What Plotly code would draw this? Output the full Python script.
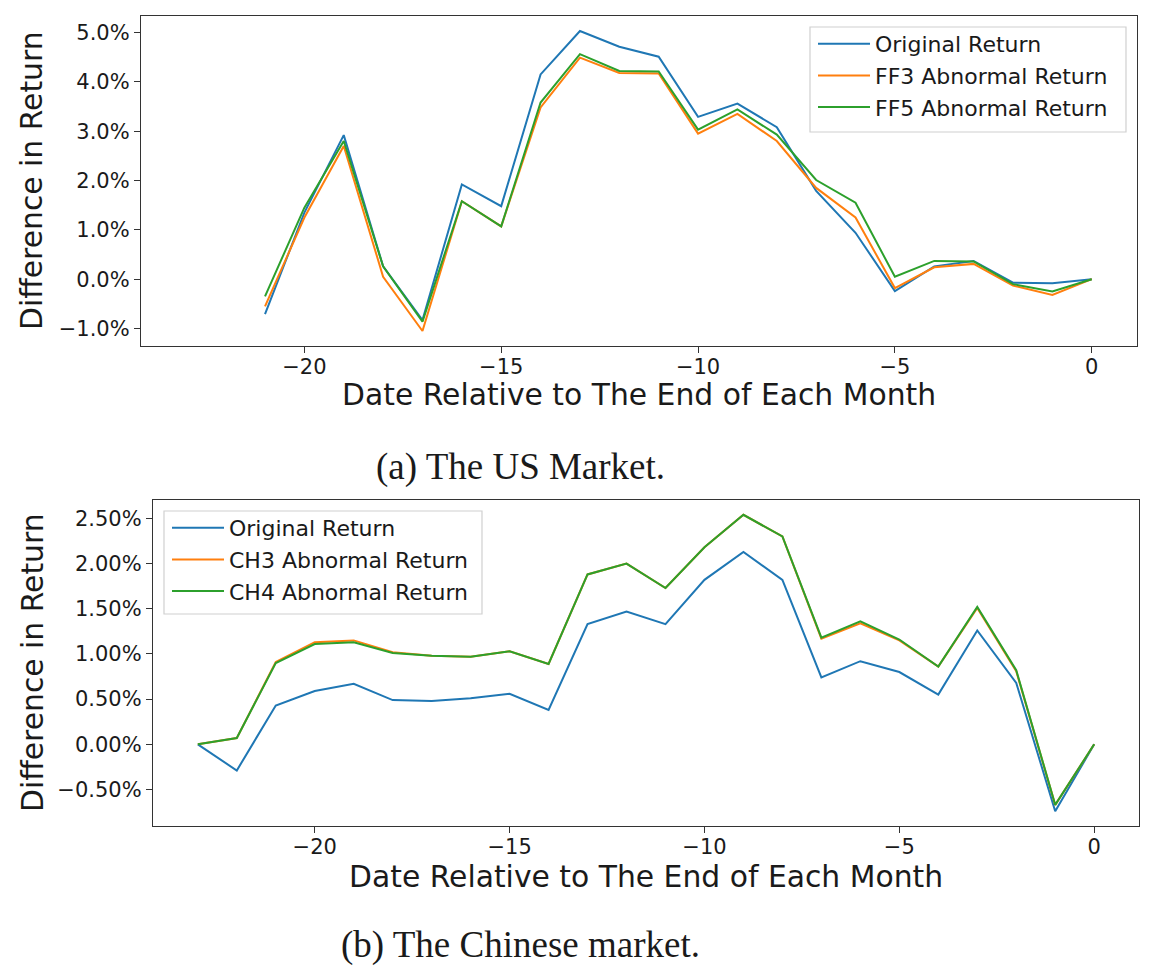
import plotly.graph_objects as go

# ---------------- data ----------------
us_days = list(range(-21, 1))
us_original = [-0.71, 1.35, 2.92, 0.26, -0.83, 1.92, 1.48, 4.15, 5.03, 4.71, 4.51,
               3.29, 3.56, 3.08, 1.79, 0.94, -0.24, 0.26, 0.37, -0.07, -0.08, 0.0]
us_ff3 = [-0.55, 1.25, 2.70, 0.05, -1.05, 1.58, 1.07, 3.48, 4.49, 4.18, 4.17,
          2.95, 3.35, 2.80, 1.85, 1.25, -0.18, 0.24, 0.31, -0.13, -0.32, 0.0]
us_ff5 = [-0.35, 1.45, 2.80, 0.26, -0.86, 1.58, 1.07, 3.58, 4.56, 4.22, 4.21,
          3.03, 3.44, 2.93, 2.01, 1.55, 0.05, 0.37, 0.36, -0.10, -0.25, 0.0]

cn_days = list(range(-23, 1))
cn_original = [0.0, -0.29, 0.43, 0.59, 0.67, 0.49, 0.48, 0.51, 0.56, 0.38, 1.33, 1.47,
               1.33, 1.82, 2.13, 1.82, 0.74, 0.92, 0.80, 0.55, 1.26, 0.68, -0.74, 0.0]
cn_ch3 = [0.0, 0.07, 0.91, 1.13, 1.15, 1.02, 0.98, 0.97, 1.03, 0.89, 1.88, 2.00,
          1.73, 2.18, 2.54, 2.30, 1.17, 1.34, 1.15, 0.86, 1.51, 0.81, -0.67, 0.0]
cn_ch4 = [0.0, 0.07, 0.90, 1.11, 1.13, 1.01, 0.98, 0.97, 1.03, 0.89, 1.88, 2.00,
          1.73, 2.18, 2.54, 2.30, 1.18, 1.36, 1.16, 0.86, 1.52, 0.82, -0.67, 0.0]

us_names = ["Original Return", "FF3 Abnormal Return", "FF5 Abnormal Return"]
cn_names = ["Original Return", "CH3 Abnormal Return", "CH4 Abnormal Return"]
x_title = "Date Relative to The End of Each Month"
y_title = "Difference in Return"
cap_a = "(a) The US Market."
cap_b = "(b) The Chinese market."

colors = ["#1f77b4", "#ff7f0e", "#2ca02c"]

W, H = 1155, 974
OFF = 8  # page body margin


def px(x):
    return (x - OFF) / W


def py(y):
    return 1 - (y - OFF) / H


def padded(vals, frac=0.05):
    lo, hi = min(vals), max(vals)
    m = (hi - lo) * frac
    return [lo - m, hi + m]


xr = padded(cn_days)
yr_us = padded(us_original + us_ff3 + us_ff5)
yr_cn = padded(cn_original + cn_ch3 + cn_ch4)

fig = go.Figure()
for name, ys, c in zip(us_names, [us_original, us_ff3, us_ff5], colors):
    fig.add_trace(go.Scatter(x=us_days, y=ys, name=name, mode="lines",
                             line=dict(color=c, width=2), xaxis="x", yaxis="y",
                             legend="legend"))
for name, ys, c in zip(cn_names, [cn_original, cn_ch3, cn_ch4], colors):
    fig.add_trace(go.Scatter(x=cn_days, y=ys, name=name, mode="lines",
                             line=dict(color=c, width=2), xaxis="x2", yaxis="y2",
                             legend="legend2"))

tickfont = dict(family="DejaVu Sans", size=21, color="#1a1a1a")
axis_common = dict(showgrid=False, zeroline=False, showline=True, mirror=True,
                   linecolor="#333333", linewidth=1.3, ticks="outside", ticklen=6,
                   tickwidth=1.3, tickcolor="#333333", tickfont=tickfont)

legend_font = dict(family="DejaVu Sans", size=22, color="#1a1a1a")
fig.update_layout(
    width=W, height=H,
    margin=dict(l=0, r=0, t=0, b=0),
    paper_bgcolor="white", plot_bgcolor="white",
    xaxis=dict(domain=[px(141), px(1137)], range=xr, dtick=5, anchor="y",
               ticklabelstandoff=-4, **axis_common),
    yaxis=dict(domain=[py(346), py(16)], range=yr_us, dtick=1,
               tickformat=".1f", ticksuffix="%", anchor="x", **axis_common),
    xaxis2=dict(domain=[px(153), px(1139)], range=xr, dtick=5, anchor="y2",
                ticklabelstandoff=-4, **axis_common),
    yaxis2=dict(domain=[py(826), py(500)], range=yr_cn, dtick=0.5,
                tickformat=".2f", ticksuffix="%", anchor="x2", **axis_common),
    legend=dict(x=px(813), y=py(23), xanchor="left", yanchor="top",
                bgcolor="rgba(0,0,0,0)", borderwidth=0, font=legend_font,
                itemwidth=52),
    legend2=dict(x=px(167), y=py(507), xanchor="left", yanchor="top",
                 bgcolor="rgba(0,0,0,0)", borderwidth=0, font=legend_font,
                 itemwidth=52),
    showlegend=True,
)

# legend frames (matplotlib style)
for (x0, y0, x1, y1) in [(810, 27, 1126, 132), (164, 511, 482, 614)]:
    fig.add_shape(type="rect", xref="paper", yref="paper",
                  x0=px(x0), x1=px(x1), y0=py(y1), y1=py(y0),
                  fillcolor="rgba(255,255,255,0.8)",
                  line=dict(color="#d0d0d0", width=1.2), layer="above")

title_font = dict(family="DejaVu Sans", size=29.8, color="#1a1a1a")
cap_font = dict(family="Liberation Serif", size=37, color="#1a1a1a")
ann = [
    dict(text=y_title, x=px(32), y=py(181), textangle=-90, font=title_font),
    dict(text=x_title, x=px(639), y=py(395), font=title_font),
    dict(text=cap_a, x=px(520), y=py(467), font=cap_font),
    dict(text=y_title, x=px(32), y=py(663), textangle=-90, font=title_font),
    dict(text=x_title, x=px(646), y=py(876), font=title_font),
    dict(text=cap_b, x=px(520), y=py(945), font=cap_font),
]
for a in ann:
    fig.add_annotation(xref="paper", yref="paper", showarrow=False,
                       xanchor="center", yanchor="middle", **a)

fig.write_html("out.html")
